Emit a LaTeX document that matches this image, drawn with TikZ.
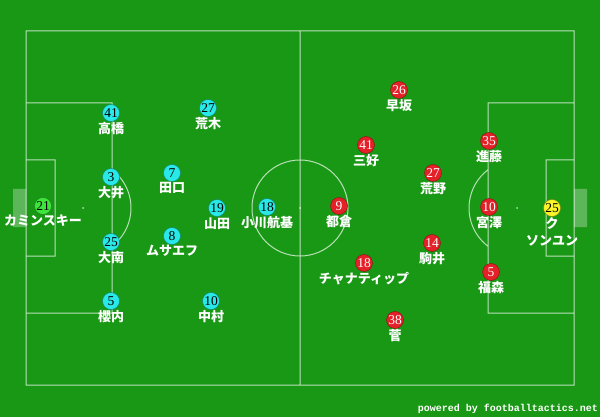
\documentclass[tikz,border=0pt]{standalone}
\usepackage{fontspec}
\newfontfamily\cjk{Noto Sans CJK JP}
\newfontfamily\numfont{Liberation Serif}
\newfontfamily\creditfont{Liberation Mono}
\usepackage{xcolor}
\usetikzlibrary{positioning}
\definecolor{turf}{RGB}{24,152,20}
\definecolor{homecol}{RGB}{40,232,232}
\definecolor{awaycol}{RGB}{228,32,40}
\definecolor{homegk}{RGB}{60,228,60}
\definecolor{awaygk}{RGB}{250,244,40}
\tikzset{
	player/.style={circle, minimum size=17pt, inner sep=0pt,
			font=\numfont\fontsize{13.5}{13.5}\selectfont},
	home/.style={player, fill=homecol, draw=homecol!55!black, text=black},
	away/.style={player, fill=awaycol, draw=awaycol!60!black, text=white},
	pname/.style={text=white, inner sep=0pt, align=center,
			font=\cjk\bfseries\fontsize{13}{17}\selectfont},
	pitchline/.style={draw=white, draw opacity=0.7, line width=1pt}
}

\begin{document}
\begin{tikzpicture}[x=1pt, y=-1pt]
		\fill [turf] (0, 0) rectangle (600, 417);

		% pitch
		\draw [pitchline]	(26, 31) rectangle (574, 385)
							(300, 31) -- (300, 385)
							(300, 208) circle (48)
							(26, 103) rectangle (112, 313)
							(26, 160) rectangle (55, 256)
							(574, 103) rectangle (488, 313)
							(574, 160) rectangle (546, 256);
		\draw [pitchline]	(83, 208) ++(-52.9:48) arc (-52.9:52.9:48);
		\draw [pitchline]	(517, 208) ++(127.1:48) arc (127.1:232.9:48);
		\fill [white, opacity=0.7]	(300, 208) circle (1)
									(83, 208) circle (1)
									(517, 208) circle (1);
		\fill [white, opacity=0.3]	(13, 189) rectangle (26, 227)
									(574, 189) rectangle (587, 227);

		% home
		\node [home, fill=homegk, draw=homegk!55!black] (h21) at (43, 206) {21};
		\node [home] (h41) at (111, 113) {41};
		\node [home] (h3) at (111, 177) {3};
		\node [home] (h25) at (111, 242) {25};
		\node [home] (h5) at (111, 301) {5};
		\node [home] (h27) at (208, 108) {27};
		\node [home] (h7) at (172, 173) {7};
		\node [home] (h19) at (217, 208) {19};
		\node [home] (h8) at (172, 236) {8};
		\node [home] (h18) at (267, 207) {18};
		\node [home] (h10) at (211, 301) {10};

		\node [pname, below=0pt of h21] (h21n) {カミンスキー};
		\node [pname, below=0.5pt of h41] (h41n) {高橋};
		\node [pname, below=0.5pt of h3] (h3n) {大井};
		\node [pname, below=0.5pt of h25] (h25n) {大南};
		\node [pname, below=0.5pt of h5] (h5n) {櫻内};
		\node [pname, below=0.5pt of h27] (h27n) {荒木};
		\node [pname, below=0.5pt of h7] (h7n) {田口};
		\node [pname, below=0.5pt of h19] (h19n) {山田};
		\node [pname, below=0.5pt of h8] (h8n) {ムサエフ};
		\node [pname, below=0.5pt of h18] (h18n) {小川航基};
		\node [pname, below=0.5pt of h10] (h10n) {中村};

		% away
		\node [away, fill=awaygk, draw=awaygk!55!black, text=black] (a25) at (552, 208) {25};
		\node [away] (a35) at (489, 141) {35};
		\node [away] (a10) at (489, 207) {10};
		\node [away] (a5) at (491, 272) {5};
		\node [away] (a26) at (399, 90) {26};
		\node [away] (a41) at (366, 145) {41};
		\node [away] (a27) at (433, 173) {27};
		\node [away] (a9) at (339, 206) {9};
		\node [away] (a14) at (432, 243) {14};
		\node [away] (a18) at (364, 263) {18};
		\node [away] (a38) at (395, 320) {38};

		\node [pname, below=0.5pt of a25] (a25n) {ク\\ソンユン};
		\node [pname, below=0.5pt of a35] (a35n) {進藤};
		\node [pname, below=0.5pt of a10] (a10n) {宮澤};
		\node [pname, below=0.5pt of a5] (a5n) {福森};
		\node [pname, below=0.5pt of a26] (a26n) {早坂};
		\node [pname, below=0.5pt of a41] (a41n) {三好};
		\node [pname, below=0.5pt of a27] (a27n) {荒野};
		\node [pname, below=0.5pt of a9] (a9n) {都倉};
		\node [pname, below=0.5pt of a14] (a14n) {駒井};
		\node [pname, below=0.5pt of a18] (a18n) {チャナティップ};
		\node [pname, below=0.5pt of a38] (a38n) {菅};

		\node [text=white, inner sep=0pt, anchor=east,
			font=\creditfont\bfseries\fontsize{10}{10}\selectfont] (credit) at (598, 409) {powered by footballtactics.net};
	\end{tikzpicture}
\end{document}
